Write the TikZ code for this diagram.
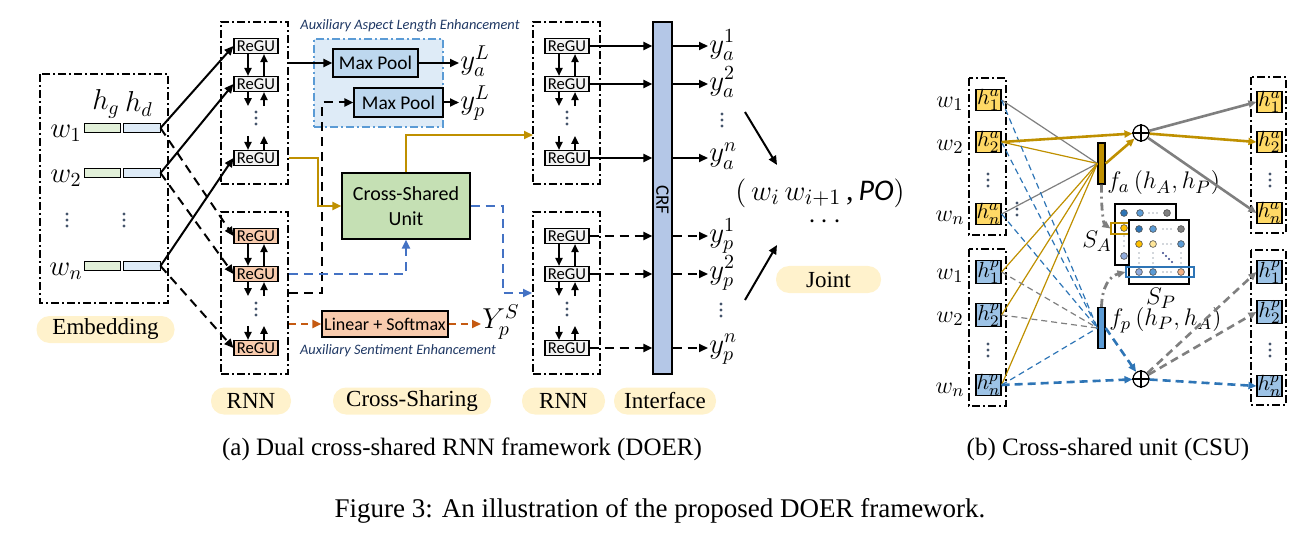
\documentclass[tikz,border=0pt]{standalone}
\usepackage{fontspec}
\setmainfont{Liberation Serif}
\newfontfamily\carl{Carlito}
\usetikzlibrary{arrows.meta,positioning,calc}

\definecolor{pillc}{HTML}{FFF2CC}
\definecolor{greyfill}{HTML}{F2F2F2}
\definecolor{salmon}{HTML}{F8CBAD}
\definecolor{embg}{HTML}{E2F0D9}
\definecolor{embb}{HTML}{DEEBF7}
\definecolor{crfc}{HTML}{B4C7E7}
\definecolor{csuc}{HTML}{C5E0B4}
\definecolor{poolc}{HTML}{BDD7EE}
\definecolor{poolbg}{HTML}{DEEBF7}
\definecolor{poolln}{HTML}{5B9BD5}
\definecolor{gold}{HTML}{BF9000}
\definecolor{blueln}{HTML}{4472C4}
\definecolor{csublue}{HTML}{2E75B6}
\definecolor{orln}{HTML}{C55A11}
\definecolor{auxc}{HTML}{1F3864}
\definecolor{dotc}{HTML}{44546A}
\definecolor{grayln}{HTML}{7F7F7F}
\definecolor{hac}{HTML}{FFD966}
\definecolor{hpc}{HTML}{9DC3E6}
\definecolor{fpc}{HTML}{5B9BD5}
\definecolor{mcA}{HTML}{2E75B6}
\definecolor{mcB}{HTML}{5B9BD5}
\definecolor{mcC}{HTML}{7F7F7F}
\definecolor{mcD}{HTML}{FFC000}
\definecolor{mcE}{HTML}{FFE699}
\definecolor{mcF}{HTML}{8FAADC}
\definecolor{mcG}{HTML}{F4B183}

\tikzset{
  ddbox/.style={draw, line width=1pt, dash pattern=on 4pt off 1.5pt on 1pt off 1.5pt},
  arr/.style={line width=1pt, -{Triangle[length=4.5pt,width=4pt]}},
  darr/.style={arr, dash pattern=on 4.5pt off 3pt},
  varr/.style={line width=0.8pt, -{Triangle[length=4pt,width=3.6pt]}},
  garr/.style={arr, gold},
  barr/.style={arr, blueln, dash pattern=on 4.5pt off 3pt},
  oarr/.style={arr, orln, dash pattern=on 3.5pt off 2.5pt},
  regu/.style={draw, line width=0.6pt, fill=greyfill, minimum width=22pt,
    minimum height=7.5pt, inner sep=0pt, font=\carl\fontsize{8.3}{8.5}\selectfont},
  regup/.style={regu, fill=salmon},
  rnnbox/.style={ddbox, minimum width=33.5pt, minimum height=81pt, inner sep=0pt},
  gbar/.style={draw, line width=0.5pt, fill=embg, minimum width=18pt, minimum height=4.5pt, inner sep=0pt},
  bbar/.style={gbar, fill=embb, minimum width=18.5pt},
  mth/.style={inner sep=0.5pt, font=\fontsize{14.5}{16}\selectfont},
  smth/.style={inner sep=0.5pt, font=\fontsize{12.5}{14}\selectfont},
  pill/.style={fill=pillc, rounded corners=6.5pt, minimum height=13.5pt, inner sep=0pt,
    font=\fontsize{11.5}{13}\selectfont},
  aux/.style={text=auxc, font=\carl\itshape\fontsize{7.2}{8}\selectfont},
  cbox/.style={draw, line width=0.6pt, inner sep=0pt, font=\carl\fontsize{9.7}{12.5}\selectfont},
  hbox/.style={draw, line width=0.6pt, fill=hac, minimum width=12.5pt, minimum height=10pt,
    inner sep=0pt, font=\fontsize{11}{11}\selectfont},
  hpbox/.style={hbox, fill=hpc},
  cg/.style={grayln, line width=0.6pt},
  cy/.style={gold, line width=0.6pt},
  cb/.style={csublue, line width=0.6pt, dash pattern=on 3pt off 2pt},
  cgd/.style={grayln, line width=0.6pt, dash pattern=on 3pt off 2pt},
  tip/.style={-{Triangle[length=4pt,width=3.5pt]}},
  Cg/.style={grayln, line width=1.3pt, tip},
  Cy/.style={gold, line width=1.3pt, tip},
  Cb/.style={csublue, line width=1.3pt, dash pattern=on 4pt off 2.5pt, tip},
  Cgd/.style={grayln, line width=1.3pt, dash pattern=on 4pt off 2.5pt, tip},
  mdot/.style={draw=black!70, line width=0.3pt},
  vdts/.pic={\foreach \k in {-6,0,6} \fill[dotc] (0,\k) circle[radius=0.8pt];},
  hdts/.pic={\foreach \k in {-4,0,4} \fill[dotc] (\k,0) circle[radius=0.35pt];},
}

\begin{document}
\begin{tikzpicture}[x=0.5pt,y=-0.5pt]
  \useasboundingbox (0,0) rectangle (1311,534);

  % Embedding
  \draw[ddbox] (40,74) rectangle (168,303);
  \node[mth] (hg) at (106,104) {$h_g$};
  \node[mth] (hd) at (139,104) {$h_d$};
  \node[mth] (w1) at (66,133) {$w_1$};
  \node[mth] (w2) at (66,178) {$w_2$};
  \node[mth] (wn) at (66,271) {$w_n$};
  \node[gbar] (g1) at (102,128) {};  \node[bbar] (e1) at (141.5,128) {};
  \node[gbar] (g2) at (102,173) {};  \node[bbar] (e2) at (141.5,173) {};
  \node[gbar] (gn) at (102,266) {};  \node[bbar] (en) at (141.5,266) {};
  \pic at (67,220) {vdts};
  \pic at (124,220) {vdts};
  \node[pill, minimum width=69pt] (pemb) at (105.5,329.5) {Embedding};

  % RNN layer 1
  \node[rnnbox] (rnnA) at (254.5,103) {};
  \node[rnnbox] (rnnP) at (254.5,293) {};
  \node[regu]  (la1) at (256,46)  {ReGU};
  \node[regu]  (la2) at (256,84)  {ReGU};
  \node[regu]  (lan) at (256,158) {ReGU};
  \node[regup] (lp1) at (256,236) {ReGU};
  \node[regup] (lp2) at (256,274) {ReGU};
  \node[regup] (lpn) at (256,348) {ReGU};
  \pic at (256,118) {vdts};
  \pic at (256,309) {vdts};

  % RNN layer 2
  \node[rnnbox] (rnnB) at (566.5,103) {};
  \node[rnnbox] (rnnQ) at (566.5,293) {};
  \node[regu] (ra1) at (567,46)  {ReGU};
  \node[regu] (ra2) at (567,84)  {ReGU};
  \node[regu] (ran) at (567,158) {ReGU};
  \node[regu] (rp1) at (567,236) {ReGU};
  \node[regu] (rp2) at (567,274) {ReGU};
  \node[regu] (rpn) at (567,348) {ReGU};
  \pic at (567,118) {vdts};
  \pic at (567,309) {vdts};

  \foreach \c in {la,lp,ra,rp}{
    \draw[varr] ([xshift=-4pt]\c1.south) -- ([xshift=-4pt]\c2.north);
    \draw[varr] ([xshift=4pt]\c2.north) -- ([xshift=4pt]\c1.south);
    \draw[varr] ([xshift=-4pt]\c2.south) -- ++(0pt,-7pt);
    \draw[varr] ([shift={(4pt,-7pt)}]\c2.south) -- ([xshift=4pt]\c2.south);
    \draw[varr] ([shift={(-4pt,7pt)}]\c n.north) -- ([xshift=-4pt]\c n.north);
    \draw[varr] ([xshift=4pt]\c n.north) -- ++(0pt,7pt);
  }

  \draw[arr]  (e1.east) -- (la1.west);
  \draw[arr]  (e2.east) -- (la2.west);
  \draw[arr]  (en.east) -- (lan.west);
  \draw[darr] (e1.east) -- (lp1.west);
  \draw[darr] (e2.east) -- (lp2.west);
  \draw[darr] (en.east) -- (lpn.west);

  % Cross-sharing
  \node[aux] (auxA) at (410,26) {Auxiliary Aspect Length Enhancement};
  \node[draw=poolln, fill=poolbg, line width=0.8pt, dash pattern=on 4pt off 1.5pt on 1pt off 1.5pt,
    minimum width=64.5pt, minimum height=44pt, inner sep=0pt] (pool) at (378.5,83) {};
  \node[cbox, fill=poolc, minimum width=42.5pt, minimum height=14pt] (mp1) at (375.5,63) {Max Pool};
  \node[cbox, fill=poolc, minimum width=44.5pt, minimum height=14.5pt] (mp2) at (398.5,102.5) {Max Pool};
  \node[mth, anchor=west] (yaL) at (459,61) {$y_a^L$};
  \node[mth, anchor=west] (ypL) at (459,103) {$y_p^L$};
  \draw[arr] (rnnA.east |- mp1.west) -- (mp1.west);
  \draw[arr] (mp1.east) -- (yaL.west |- mp1.east);
  \draw[arr] (mp2.east) -- (ypL.west |- mp2.east);
  \draw[darr] (rnnP.east) -- ++(33,0) |- (mp2.west);

  \node[cbox, fill=csuc, minimum width=64pt, minimum height=33pt, align=center,
    font=\carl\fontsize{10}{12.5}\selectfont] (csu) at (406,206) {Cross-Shared\\Unit};
  \coordinate (gin) at (533,135);
  \draw[garr] (rnnA.east |- lan.east) -- ++(29,0) |- (csu.west);
  \draw[garr] (csu.north) |- (gin);
  \draw[barr] (rnnP.east |- lp2.east) -| (csu.south);
  \draw[barr] (csu.east) -- ++(32,0) |- (rnnQ.west);

  \node[cbox, fill=salmon, minimum width=63pt, minimum height=13pt,
    font=\carl\fontsize{9}{11}\selectfont] (lin) at (385,324) {Linear + Softmax};
  \node[mth, anchor=west] (ysS) at (481,322) {$Y_p^S$};
  \draw[oarr] (rnnP.east |- lin.west) -- (lin.west);
  \draw[oarr] (lin.east) -- (ysS.west |- lin.east);
  \node[aux] (auxS) at (398,351) {Auxiliary Sentiment Enhancement};

  % Interface
  \node[draw, line width=0.6pt, fill=crfc, minimum width=9.5pt, minimum height=176pt,
    inner sep=0pt] (crf) at (662.5,198) {};
  \node[rotate=-90, font=\carl\fontsize{9.5}{11}\selectfont] (crft) at (662.5,200) {CRF};
  \node[mth, anchor=west] (ya1) at (708,45)  {$y_a^1$};
  \node[mth, anchor=west] (ya2) at (708,82)  {$y_a^2$};
  \node[mth, anchor=west] (yan) at (708,156) {$y_a^n$};
  \node[mth, anchor=west] (yp1) at (708,236) {$y_p^1$};
  \node[mth, anchor=west] (yp2) at (708,273) {$y_p^2$};
  \node[mth, anchor=west] (ypn) at (708,349) {$y_p^n$};
  \pic at (722,120) {vdts};
  \pic at (721,310) {vdts};
  \foreach \r/\y in {ra1/ya1,ra2/ya2,ran/yan}{
    \draw[arr] (\r.east) -- (crf.west |- \r.east);
    \draw[arr] (crf.east |- \r.east) -- (\y.west |- \r.east);
  }
  \foreach \r/\y in {rp1/yp1,rp2/yp2,rpn/ypn}{
    \draw[darr] (\r.east) -- (crf.west |- \r.east);
    \draw[darr] (crf.east |- \r.east) -- (\y.west |- \r.east);
  }

  % Joint
  \node[mth, font=\fontsize{15}{17}\selectfont] (tup) at (820,193)
    {$\bigl(\,w_i\,w_{i+1}\,$,\,{\carl\itshape PO}$\bigr)$};
  \node[mth] (tdots) at (825,222) {$\cdots$};
  \coordinate (j1) at (745,112);  \coordinate (j1e) at (777,165);
  \coordinate (j2) at (745,300);  \coordinate (j2e) at (777,245);
  \draw[arr] (j1) -- (j1e);
  \draw[arr] (j2) -- (j2e);
  \node[pill, minimum width=52.5pt] (pjoint) at (828.5,279.5) {Joint};

  % Stage labels
  \node[pill, minimum width=40pt]   (prnn1) at (251,401)   {RNN};
  \node[pill, minimum width=79pt]   (pcs)   at (412,401)   {Cross-Sharing};
  \node[pill, minimum width=41.5pt] (prnn2) at (563.5,401) {RNN};
  \node[pill, minimum width=51pt]   (pint)  at (665,401)   {Interface};

  % (b) CSU
  \draw[ddbox] (969,78) rectangle (1006,235);
  \draw[ddbox] (969,249) rectangle (1006,406);
  \draw[ddbox] (1251,77) rectangle (1286,233);
  \draw[ddbox] (1251,250) rectangle (1286,405);
  \node[smth] (cw1) at (950,104) {$w_1$};
  \node[smth] (cw2) at (950,147) {$w_2$};
  \node[smth] (cwn) at (950,218) {$w_n$};
  \node[smth] (cw4) at (950,276) {$w_1$};
  \node[smth] (cw5) at (950,319) {$w_2$};
  \node[smth] (cw6) at (950,390) {$w_n$};
  \node[hbox]  (ka1) at (988.5,100) {$h_1^a$};
  \node[hbox]  (ka2) at (988.5,142) {$h_2^a$};
  \node[hbox]  (kan) at (988.5,214) {$h_n^a$};
  \node[hpbox] (kp1) at (988.5,272) {$h_1^p$};
  \node[hpbox] (kp2) at (988.5,315) {$h_2^p$};
  \node[hpbox] (kpn) at (988.5,385) {$h_n^p$};
  \node[hbox]  (qa1) at (1269.5,102) {$h_1^a$};
  \node[hbox]  (qa2) at (1269.5,142) {$h_2^a$};
  \node[hbox]  (qan) at (1269.5,213) {$h_n^a$};
  \node[hpbox] (qp1) at (1269.5,272) {$h_1^p$};
  \node[hpbox] (qp2) at (1269.5,312) {$h_2^p$};
  \node[hpbox] (qpn) at (1269.5,386) {$h_n^p$};
  \pic at (988,180) {vdts};
  \pic at (988,350) {vdts};
  \pic at (1270,180) {vdts};
  \pic at (1270,350) {vdts};
  \pic at (1017,209) {vdts};

  \node[draw, line width=0.6pt, fill=gold, minimum width=3.5pt, minimum height=20.5pt,
    inner sep=0pt] (fA) at (1101.5,163.5) {};
  \node[draw, line width=0.6pt, fill=fpc, minimum width=3.5pt, minimum height=20.5pt,
    inner sep=0pt] (fP) at (1101.5,328) {};
  \node[smth, anchor=west] (fAl) at (1106,183) {$f_a\,(h_A,h_P)$};
  \node[smth, anchor=west] (fPl) at (1108,320) {$f_p\,(h_P,h_A)$};
  \node[circle, draw, line width=0.6pt, minimum size=8pt, inner sep=0pt] (sumA) at (1141,133) {};
  \node[circle, draw, line width=0.6pt, minimum size=8pt, inner sep=0pt] (sumP) at (1141,379) {};
  \draw[line width=0.6pt] (sumA.north) -- (sumA.south) (sumA.west) -- (sumA.east);
  \draw[line width=0.6pt] (sumP.north) -- (sumP.south) (sumP.west) -- (sumP.east);

  % into f_a
  \draw[cg] (ka1.east) -- (fA.west);
  \draw[cg] (kan.east) -- (fA.west);
  \draw[cy] (ka2.east) -- (fA.west);
  \draw[cy] (kp1.east) -- (fA.west);
  \draw[cy] (kp2.east) -- (fA.west);
  \draw[cy] (kpn.east) -- (fA.west);
  % into f_p
  \draw[cb]  (ka1.east) -- (fP.west);
  \draw[cb]  (ka2.east) -- (fP.west);
  \draw[cb]  (kan.east) -- (fP.west);
  \draw[cgd] (kp1.east) -- (fP.west);
  \draw[cgd] (kp2.east) -- (fP.west);
  \draw[cb]  (kpn.east) -- (fP.west);
  % sums
  \draw[Cy] (ka2.east) -- (sumA);
  \draw[Cy] (fA.east) -- (sumA);
  \draw[Cg] (sumA) -- (qa1.west);
  \draw[Cy] (sumA) -- (qa2.west);
  \draw[Cg] (sumA) -- (qan.west);
  \draw[Cb] (kpn.east) -- (sumP);
  \draw[Cb] (fP.east) -- (sumP);
  \draw[Cgd] (sumP) -- (qp1.west);
  \draw[Cgd] (sumP) -- (qp2.west);
  \draw[Cb] (sumP) -- (qpn.west);

  % similarity matrices
  \node[draw, fill=white, line width=0.6pt, minimum width=30.5pt, minimum height=30.5pt,
    inner sep=0pt] (sA) at (1145.5,234.5) {};
  \filldraw[mdot, fill=mcA] (1124,213) circle[radius=1.7pt];
  \filldraw[mdot, fill=mcB] (1140,213) circle[radius=1.7pt];
  \pic at (1153,213) {hdts};
  \filldraw[mdot, fill=mcC] (1167,213) circle[radius=1.7pt];
  \filldraw[mdot, fill=mcD] (1124,228) circle[radius=1.7pt];
  \foreach \k in {236,241,246} \fill[dotc] (1124,\k) circle[radius=0.35pt];
  \filldraw[mdot, fill=mcF] (1124,256) circle[radius=1.7pt];
  \node[draw=gold, line width=0.6pt, minimum width=9pt, minimum height=5.5pt,
    inner sep=0pt] (hlA) at (1120,228.5) {};
  \node[draw, fill=white, line width=0.6pt, minimum width=30pt, minimum height=32pt,
    inner sep=0pt] (sP) at (1159,252) {};
  \filldraw[mdot, fill=mcA] (1139,229) circle[radius=1.7pt];
  \filldraw[mdot, fill=mcB] (1153,229) circle[radius=1.7pt];
  \pic at (1167,229) {hdts};
  \filldraw[mdot, fill=mcC] (1181,229) circle[radius=1.7pt];
  \filldraw[mdot, fill=mcD] (1139,244) circle[radius=1.7pt];
  \filldraw[mdot, fill=mcE] (1153,244) circle[radius=1.7pt];
  \pic at (1167,244) {hdts};
  \filldraw[mdot, fill=mcB] (1181,244) circle[radius=1.7pt];
  \foreach \c in {1139,1153,1181}
    \foreach \k in {253,258,263} \fill[dotc] (\c,\k) circle[radius=0.35pt];
  \foreach \k in {0,1,2,3} \fill[dotc!80!blue] (1163+3*\k,253+3*\k) circle[radius=0.6pt];
  \filldraw[mdot, fill=mcF] (1139,272) circle[radius=1.7pt];
  \filldraw[mdot, fill=mcB] (1153,272) circle[radius=1.7pt];
  \pic at (1167,272) {hdts};
  \filldraw[mdot, fill=mcG] (1181,272) circle[radius=1.7pt];
  \node[draw=csublue, line width=0.6pt, minimum width=34pt, minimum height=5pt,
    inner sep=0pt] (hlP) at (1160,272) {};
  \node[smth] (sAl) at (1097,241) {$S_A$};
  \node[smth] (sPl) at (1161,298) {$S_P$};
  \draw[grayln, line width=1.4pt, dash pattern=on 4pt off 2pt on 1pt off 2pt, tip]
    (fA.south) .. controls (1101,212) and (1104,224) .. (hlA.west);
  \draw[grayln, line width=1.4pt, dash pattern=on 4pt off 2pt on 1pt off 2pt, tip]
    (fP.north) .. controls (1102,286) and (1110,276) .. (hlP.west);

  % captions
  \node[font=\fontsize{12.5}{15}\selectfont] (capa) at (462,449) {(a) Dual cross-shared RNN framework (DOER)};
  \node[font=\fontsize{12.5}{15}\selectfont] (capb) at (1108,449) {(b) Cross-shared unit (CSU)};
  \node[font=\fontsize{13.5}{16}\selectfont] (capf) at (660,511) {Figure 3: An illustration of the proposed DOER framework.};
\end{tikzpicture}
\end{document}
